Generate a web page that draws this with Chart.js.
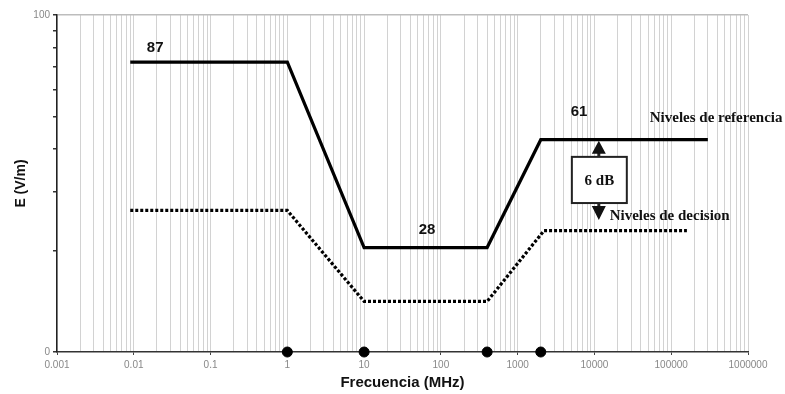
<!DOCTYPE html>
<html>
<head>
<meta charset="utf-8">
<script src="https://cdn.jsdelivr.net/npm/chart.js@4/dist/chart.umd.min.js"></script>
<style>
  html, body { margin: 0; padding: 0; background: #fff; }
  #wrap { width: 785px; height: 394px; }
</style>
</head>
<body>
<div id="wrap"><canvas id="limitsChart" width="785" height="394"></canvas></div>
<script>
// decade labels on the frequency axis (MHz)
const freqDecades = [0.001, 0.01, 0.1, 1, 10, 100, 1000, 10000, 100000, 1000000];
const freqLabels = ['0.001', '0.01', '0.1', '1', '10', '100', '1000', '10000', '100000', '1000000'];

// y axis tick marks (only 0 and 100 are labelled)
const levelTicks = [0, 30.1, 47.7, 60.2, 69.9, 77.8, 84.5, 90.3, 95.4, 100];

// reference levels (solid line)
const refFreq = [0.009, 1, 10, 400, 2000, 300000];
const refLevel = [86, 86, 31, 31, 63, 63];

// decision levels (dotted line)
const decFreq = [0.009, 1, 10, 400, 2200, 160000];
const decLevel = [42, 42, 15, 15, 36, 36];

// break points marked on the frequency axis
const markFreq = [1, 10, 400, 2000];
const markLevel = [0, 0, 0, 0];

const toXY = (xs, ys) => xs.map((x, i) => ({ x: x, y: ys[i] }));

// minor grid positions: 1..9 in every decade
const gridValues = [];
for (let d = 0; d < freqDecades.length - 1; d++) {
  for (let k = 1; k <= 9; k++) gridValues.push(freqDecades[d] * k);
}
gridValues.push(freqDecades[freqDecades.length - 1]);

const isDecade = v => Math.abs(Math.log10(v) - Math.round(Math.log10(v))) < 1e-9;

// text / box annotations placed in data coordinates
const notes = [
  { text: '87', x: 0.019, y: 90.2, font: 'bold 15px "Liberation Sans", Arial', align: 'center' },
  { text: '28', x: 66, y: 36.2, font: 'bold 15px "Liberation Sans", Arial', align: 'center' },
  { text: '61', x: 6300, y: 71.2, font: 'bold 15px "Liberation Sans", Arial', align: 'center' },
  { text: 'Niveles de referencia', x: 52500, y: 69.4, font: 'bold 15px "Liberation Serif", "Times New Roman"', align: 'left' },
  { text: 'Niveles de decision', x: 15800, y: 40.2, font: 'bold 15px "Liberation Serif", "Times New Roman"', align: 'left' }
];

const annotate = {
  id: 'annotate',
  afterDatasetsDraw(chart) {
    const { ctx, scales: { x, y } } = chart;
    ctx.save();
    ctx.fillStyle = '#111';
    ctx.textBaseline = 'middle';
    notes.forEach(n => {
      ctx.font = n.font;
      ctx.textAlign = n.align;
      ctx.fillText(n.text, x.getPixelForValue(n.x), y.getPixelForValue(n.y));
    });

    // 6 dB box
    const bx0 = x.getPixelForValue(5080), bx1 = x.getPixelForValue(26400);
    const by0 = y.getPixelForValue(57.9), by1 = y.getPixelForValue(44.2);
    ctx.fillStyle = '#fff';
    ctx.fillRect(bx0, by0, bx1 - bx0, by1 - by0);
    ctx.strokeStyle = '#222';
    ctx.lineWidth = 2;
    ctx.strokeRect(bx0, by0, bx1 - bx0, by1 - by0);
    ctx.fillStyle = '#111';
    ctx.font = 'bold 15px "Liberation Serif", "Times New Roman"';
    ctx.textAlign = 'center';
    ctx.fillText('6 dB', (bx0 + bx1) / 2, (by0 + by1) / 2 + 1);

    // arrows
    const ax = x.getPixelForValue(11400);
    const upTip = y.getPixelForValue(refLevel[4]) + 1;
    const downTip = y.getPixelForValue(39.2);
    ctx.lineWidth = 3;
    ctx.beginPath();
    ctx.moveTo(ax, by0); ctx.lineTo(ax, upTip + 10);
    ctx.moveTo(ax, by1); ctx.lineTo(ax, downTip - 10);
    ctx.stroke();
    ctx.beginPath();
    ctx.moveTo(ax, upTip); ctx.lineTo(ax - 7, upTip + 13); ctx.lineTo(ax + 7, upTip + 13); ctx.closePath();
    ctx.moveTo(ax, downTip); ctx.lineTo(ax - 7, downTip - 14); ctx.lineTo(ax + 7, downTip - 14); ctx.closePath();
    ctx.fill();
    ctx.restore();
  }
};

const ctx = document.getElementById('limitsChart').getContext('2d');

new Chart(ctx, {
  type: 'line',
  data: {
    datasets: [
      {
        label: 'Niveles de referencia',
        data: toXY(refFreq, refLevel),
        borderColor: '#000',
        borderWidth: 3.2,
        pointRadius: 0,
        tension: 0,
        borderJoinStyle: 'miter'
      },
      {
        label: 'Niveles de decision',
        data: toXY(decFreq, decLevel),
        borderColor: '#000',
        borderWidth: 3.2,
        borderDash: [3, 2],
        pointRadius: 0,
        tension: 0
      },
      {
        label: 'marks',
        data: toXY(markFreq, markLevel),
        showLine: false,
        pointRadius: 5,
        pointBackgroundColor: '#000',
        pointBorderColor: '#000',
        clip: false
      }
    ]
  },
  options: {
    responsive: false,
    animation: false,
    layout: { padding: { top: 15, right: 37, left: 0, bottom: 0 } },
    plugins: {
      legend: { display: false },
      tooltip: { enabled: false }
    },
    scales: {
      x: {
        type: 'logarithmic',
        min: 0.001,
        max: 1000000,
        afterBuildTicks: scale => { scale.ticks = gridValues.map(v => ({ value: v })); },
        afterFit: scale => { scale.height = 42; },
        ticks: {
          autoSkip: false,
          maxRotation: 0,
          padding: 4,
          color: '#888',
          font: { family: '"Liberation Sans", Arial', size: 10 },
          callback: (value) => {
            if (!isDecade(value)) return '';
            const i = freqDecades.findIndex(d => Math.abs(Math.log10(d) - Math.log10(value)) < 1e-9);
            return i >= 0 ? freqLabels[i] : '';
          }
        },
        grid: {
          color: '#d2d2d2',
          lineWidth: 1,
          tickLength: 3,
          tickColor: c => (c.tick && isDecade(c.tick.value) ? '#444' : 'transparent')
        },
        border: { color: '#333', width: 1.5 },
        title: {
          display: true,
          text: 'Frecuencia (MHz)',
          color: '#111',
          font: { family: '"Liberation Sans", Arial', size: 15, weight: 'bold' },
          padding: { top: 0, bottom: 2 }
        }
      },
      y: {
        min: 0,
        max: 100,
        afterBuildTicks: scale => { scale.ticks = levelTicks.map(v => ({ value: v })); },
        afterFit: scale => { scale.width = 57; },
        ticks: {
          autoSkip: false,
          padding: 3,
          color: '#888',
          font: { family: '"Liberation Sans", Arial', size: 10 },
          callback: value => (value === 0 || value === 100 ? String(value) : '')
        },
        grid: {
          color: c => (c.tick && c.tick.value === 100 ? '#bdbdbd' : 'transparent'),
          lineWidth: 1.5,
          tickLength: 4,
          tickColor: '#333'
        },
        border: { color: '#222', width: 1.5 },
        title: {
          display: true,
          text: 'E (V/m)',
          color: '#111',
          font: { family: '"Liberation Sans", Arial', size: 14, weight: 'bold' },
          padding: { top: 13, bottom: 0 }
        }
      }
    }
  },
  plugins: [annotate]
});
</script>
</body>
</html>
